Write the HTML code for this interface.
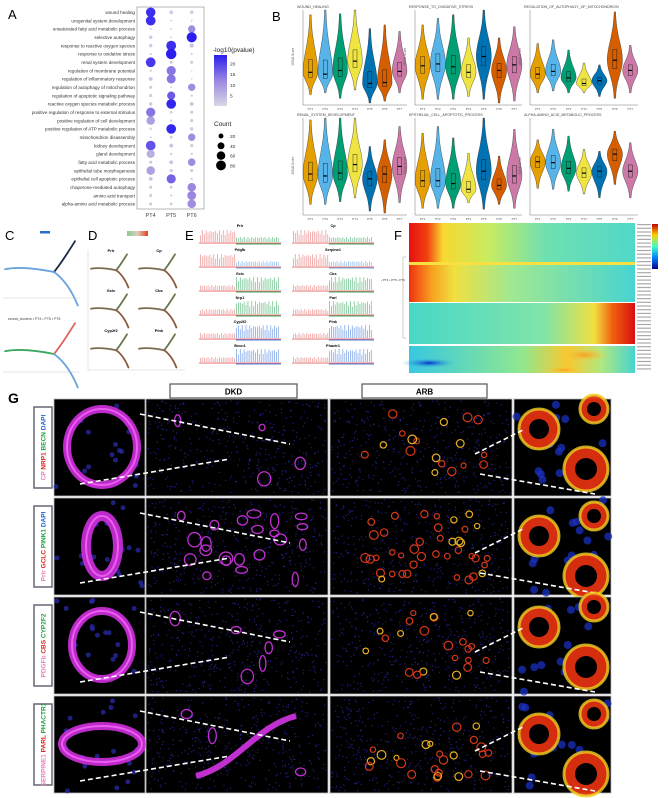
<!DOCTYPE html>
<html><head><meta charset="utf-8">
<style>
html,body{margin:0;padding:0;background:#fff;}
svg{display:block;font-family:"Liberation Sans",sans-serif;}
</style></head>
<body>
<svg id="fig" width="669" height="798" viewBox="0 0 669 798" xmlns="http://www.w3.org/2000/svg">
<defs>
<linearGradient id="pvGrad" x1="0" y1="1" x2="0" y2="0">
<stop offset="0" stop-color="#d8d8e4"/><stop offset="0.5" stop-color="#9b86e0"/><stop offset="1" stop-color="#2a1ef0"/></linearGradient>
<linearGradient id="dGrad" x1="0" x2="1"><stop offset="0" stop-color="#8fc48f"/><stop offset="0.5" stop-color="#d8d0c0"/><stop offset="1" stop-color="#e83a1a"/></linearGradient>
<linearGradient id="jetV" x1="0" y1="1" x2="0" y2="0">
<stop offset="0" stop-color="#00008f"/><stop offset="0.25" stop-color="#0080ff"/><stop offset="0.5" stop-color="#40ffc0"/><stop offset="0.75" stop-color="#ffd000"/><stop offset="1" stop-color="#c00000"/></linearGradient>
<linearGradient id="hmTop" x1="0" x2="1">
<stop offset="0" stop-color="#e81010"/><stop offset="0.08" stop-color="#f04010"/><stop offset="0.15" stop-color="#f8d830"/><stop offset="0.35" stop-color="#c8ec60"/><stop offset="0.6" stop-color="#70e0b0"/><stop offset="1" stop-color="#50d8c8"/></linearGradient>
<linearGradient id="hmTop2" x1="0" x2="1">
<stop offset="0" stop-color="#f03010"/><stop offset="0.1" stop-color="#f8a020"/><stop offset="0.2" stop-color="#f0e040"/><stop offset="0.45" stop-color="#a0e890"/><stop offset="1" stop-color="#48d4d0"/></linearGradient>
<linearGradient id="hmMid" x1="0" x2="1">
<stop offset="0" stop-color="#48d8c8"/><stop offset="0.6" stop-color="#80e4a8"/><stop offset="0.82" stop-color="#f0e040"/><stop offset="0.9" stop-color="#f06010"/><stop offset="1" stop-color="#d81010"/></linearGradient>
<linearGradient id="hmBot" x1="0" x2="1">
<stop offset="0" stop-color="#38c8e0"/><stop offset="0.5" stop-color="#90e890"/><stop offset="0.7" stop-color="#f8c830"/><stop offset="0.85" stop-color="#b0e880"/><stop offset="1" stop-color="#48d4d0"/></linearGradient>
<radialGradient id="blueSpot"><stop offset="0" stop-color="#0030d0"/><stop offset="1" stop-color="#40c8e0" stop-opacity="0"/></radialGradient>
<radialGradient id="orSpot"><stop offset="0" stop-color="#f8a020"/><stop offset="1" stop-color="#f8d040" stop-opacity="0"/></radialGradient>
</defs>
<rect width="669" height="798" fill="#fff"/>
<g id="pA"></g>
<g id="pB"></g>
<g id="pC"></g>
<g id="pD"></g>
<g id="pE"></g>
<g id="pF"></g>
<g id="pG"></g>
</svg>
<script>
// ---------- Panel A data ----------
const termsA = ["wound healing","urogenital system development","unsaturated fatty acid metabolic process","selective autophagy","response to reactive oxygen species","response to oxidative stress","renal system development","regulation of membrane potential","regulation of inflammatory response","regulation of autophagy of mitochondrion","regulation of apoptotic signaling pathway","reactive oxygen species metabolic process","positive regulation of response to external stimulus","positive regulation of cell development","positive regulation of ATP metabolic process","mitochondrion disassembly","kidney development","gland development","fatty acid metabolic process","epithelial tube morphogenesis","epithelial cell apoptotic process","chaperone-mediated autophagy","amino acid transport","alpha-amino acid metabolic process"];
const clustersA = ["PT4","PT5","PT6"];
const pvPT4 = [22,22,1,2,2,1,21,1,3,2,2,2,14,8,1,1,18,6,2,8,3,2,2,2];
const pvPT5 = [2,1,1,1,22,24,2,14,14,1,17,23,2,1,23,2,3,1,3,2,16,2,1,2];
const pvPT6 = [2,1,11,24,3,1,2,1,1,11,1,3,2,2,2,11,2,1,11,2,1,12,12,11];
const cntPT4 = [75,78,4,10,10,4,78,5,12,8,8,10,70,60,5,3,78,55,8,60,12,8,8,8];
const cntPT5 = [12,3,3,3,80,90,8,70,68,3,55,78,6,5,78,6,12,5,12,8,70,6,5,6];
const cntPT6 = [10,3,45,85,14,4,8,2,2,45,5,12,8,8,10,45,8,5,48,8,5,60,65,60];
const pvTicks = [5,10,15,20];
const countTicks = [20,40,60,80];

const NS="http://www.w3.org/2000/svg";
function mk(tag, attrs, parent, text){const e=document.createElementNS(NS,tag);for(const k in attrs)e.setAttribute(k,attrs[k]);if(text!==undefined)e.textContent=text;parent.appendChild(e);return e;}
function lerp(a,b,t){return a+(b-a)*t;}
function pvColor(v){const t=Math.max(0,Math.min(1,v/24));
  const c0=[216,216,228],c1=[155,134,224],c2=[42,30,240];
  let a,b,u; if(t<0.5){a=c0;b=c1;u=t/0.5;}else{a=c1;b=c2;u=(t-0.5)/0.5;}
  return `rgb(${Math.round(lerp(a[0],b[0],u))},${Math.round(lerp(a[1],b[1],u))},${Math.round(lerp(a[2],b[2],u))})`;}
function rCount(c){return Math.sqrt(c)*0.55;}

(function(){
 const g=document.getElementById('pA');
 let t=mk('text',{x:8,y:19,'font-size':13},g,'A');
 
 
 const box=mk('rect',{x:137,y:7,width:67,height:202,fill:'none',stroke:'#888','stroke-width':0.6},g);
 
 
 const xs=i=>150.7+i*20.5, ys=i=>12.3+i*8.33;
 const pvs=[pvPT4,pvPT5,pvPT6], cnts=[cntPT4,cntPT5,cntPT6];
 termsA.forEach((term,i)=>{
   const lab=mk('text',{x:135,y:ys(i)+1.7,'font-size':4.6,'text-anchor':'end',fill:'#333'},g,term);
   
   
   for(let j=0;j<3;j++){
     const c=mk('circle',{cx:xs(j),cy:ys(i),r:rCount(cnts[j][i]),fill:pvColor(pvs[j][i])},g);
     
     
   }
 });
 clustersA.forEach((cl,j)=>{const l=mk('text',{x:xs(j),y:217,'font-size':5.5,'text-anchor':'middle',fill:'#444'},g,cl);
   
   });
 const lt=mk('text',{x:213,y:52,'font-size':6.5,fill:'#222'},g,'-log10(pvalue)');
 
 
 const gb=mk('rect',{x:214,y:55,width:13,height:51,fill:'url(#pvGrad)'},g);
 
 
 pvTicks.forEach(v=>{const y=106-(v/24)*51;const tt=mk('text',{x:230,y:y+2,'font-size':4.8,fill:'#333'},g,String(v));
   
   });
 const ct=mk('text',{x:214,y:126,'font-size':6.5,fill:'#222'},g,'Count');
 
 
 countTicks.forEach((v,i)=>{const y=136+i*9.8;
   const c=mk('circle',{cx:221,cy:y,r:rCount(v),fill:'#000'},g);
   
   
   const tt=mk('text',{x:230,y:y+2,'font-size':4.8,fill:'#333'},g,String(v));
   
   });
})();

// ---------- Panel B data ----------
const violinTitles = ["WOUND_HEALING","RESPONSE_TO_OXIDATIVE_STRESS","REGULATION_OF_AUTOPHAGY_OF_MITOCHONDRION","RENAL_SYSTEM_DEVELOPMENT","EPITHELIAL_CELL_APOPTOTIC_PROCESS","ALPHA-AMINO_ACID_METABOLIC_PROCESS"];
const violinGroups = ["PT1","PT2","PT3","PT4","PT5","PT6","PT7"];
const vMed = [[.67,.69,.65,.55,.79,.78,.66],[.6,.58,.61,.67,.5,.65,.59],[.69,.66,.73,.79,.76,.54,.65],[.59,.61,.58,.49,.64,.59,.51],[.66,.66,.69,.75,.56,.71,.61],[.46,.47,.53,.58,.56,.38,.56]];
const vTop = [[.05,0,.04,0,.2,.16,.23],[.16,.09,.05,.3,0,.3,.18],[.36,.32,.43,.57,.59,.02,.38],[.02,0,0,0,.3,.23,.09],[.16,.09,.21,.37,0,.4,.12],[.23,.12,.19,.33,.35,.14,.26]];
const vBot = [[.91,.89,.95,.86,1,.98,.89],[.96,.96,.96,.93,.96,1,.98],[.89,.87,.89,.89,.93,.95,.89],[.91,.91,.88,.84,.98,1,.89],[.95,.95,.95,.89,.96,.91,.95],[.74,.75,.77,.8,.84,.7,.84]];
const violinColors = ["#E69F00","#56B4E9","#009E73","#F0E442","#0072B2","#D55E00","#CC79A7"];

(function(){
 const g=document.getElementById('pB');
 const L=mk('text',{x:272,y:21,'font-size':13},g,'B');
 
 
 const px=[303,415,530], pw=[104,107,108];
 const rows=[[10,103],[118,213]];
 violinTitles.forEach((title,p)=>{
  const col=p%3,row=Math.floor(p/3);
  const x0=px[col],w=pw[col],y0=rows[row][0],y1=rows[row][1];
  const yS=f=>y0+f*(y1-y0);
  const sub=mk('g',{},g);
  
  
  const tt=mk('text',{x:x0-6,y:y0-2,'font-size':3.6,fill:'#444'},sub,title);
  
  
  mk('line',{x1:x0,y1:y0,x2:x0,y2:y1+2,stroke:'#777','stroke-width':0.5},sub);
  mk('line',{x1:x0,y1:y1+2,x2:x0+w,y2:y1+2,stroke:'#777','stroke-width':0.5},sub);
  const yl=mk('text',{x:x0-9,y:(y0+y1)/2,'font-size':3.2,fill:'#555',transform:`rotate(-90 ${x0-9} ${(y0+y1)/2})`,'text-anchor':'middle'},sub,'GSVA Score');
  
  
  const step=w/7;
  violinGroups.forEach((gn,i)=>{
   const cx=x0+step*(i+0.5);
   const med=vMed[p][i],top=vTop[p][i],bot=vBot[p][i];
   const hw=step*0.46;
   const pts=[],N=30;
   for(let k=0;k<=N;k++){const f=top+(bot-top)*k/N;const d=(f-med)/Math.max(0.001,(f<med?(med-top)*0.55:(bot-med)*0.55));
     const wd=0.5+hw*Math.exp(-d*d);pts.push([cx+wd,yS(f)]);}
   const left=pts.slice().reverse().map(q=>[2*cx-q[0],q[1]]);
   const path='M'+pts.concat(left).map(q=>q[0].toFixed(1)+','+q[1].toFixed(1)).join('L')+'Z';
   const v=mk('path',{d:path,fill:violinColors[i],stroke:'#222','stroke-width':0.35},sub);
   
   
   const q1=med-(med-top)*0.22,q3=med+(bot-med)*0.22;
   const b=mk('rect',{x:cx-2,y:yS(q1),width:4,height:yS(q3)-yS(q1),fill:'none',stroke:'#111','stroke-width':0.4},sub);
   
   
   mk('line',{x1:cx-2,x2:cx+2,y1:yS(med),y2:yS(med),stroke:'#000','stroke-width':1.2},sub);
   const xl=mk('text',{x:cx,y:y1+7,'font-size':3,'text-anchor':'middle',fill:'#555'},sub,gn);
   
   
  });
 });
})();

// ---------- Panel C/D (trajectory trees) ----------
function tree(parent,ox,oy,s,colL,colR,colTop){
 const p1=`M${ox},${oy+8*s} C${ox+10*s},${oy+6*s} ${ox+25*s},${oy+8*s} ${ox+35*s},${oy+10*s}`;
 const p2=`M${ox+35*s},${oy+10*s} C${ox+40*s},${oy+4*s} ${ox+45*s},${oy-4*s} ${ox+50*s},${oy-12*s}`;
 const p3=`M${ox+35*s},${oy+10*s} C${ox+42*s},${oy+15*s} ${ox+48*s},${oy+24*s} ${ox+52*s},${oy+34*s}`;
 [[p1,colL],[p2,colTop],[p3,colR]].forEach(([d,c])=>{const e=mk('path',{d:d,fill:'none',stroke:c,'stroke-width':1.8,'stroke-linecap':'round'},parent);
  
  });
}
(function(){
 const g=document.getElementById('pC');
 const L=mk('text',{x:5,y:240,'font-size':13},g,'C');
 
 
 mk('rect',{x:40,y:231,width:10,height:2.5,fill:'#2a6fd0'},g);
 tree(g,5,258,1.4,'#6aa4dc','#6aa4dc','#1a2a4a');
 const lg=mk('text',{x:8,y:320,'font-size':3.5,fill:'#444'},g,'seurat_clusters  • PT4  • PT5  • PT6');
 
 
 tree(g,5,340,1.4,'#3aa860','#6aa4dc','#e06060');
 mk('line',{x1:3,y1:298,x2:80,y2:298,stroke:'#bbb','stroke-width':0.4},g);
 mk('line',{x1:3,y1:372,x2:80,y2:372,stroke:'#bbb','stroke-width':0.4},g);

 const d=document.getElementById('pD');
 const DL=mk('text',{x:88,y:240,'font-size':13},d,'D');
 
 
 const cb=mk('rect',{x:127,y:231,width:21,height:5,fill:'url(#dGrad)'},d);
 
 
 const genesD=["Prlr","Cp","Gclc","Cbs","Cyp2f2","Pink"];
 genesD.forEach((gn,i)=>{const col=i%2,row=Math.floor(i/2);
  const ox=91+col*48,oy=263+row*40;
  const t=mk('text',{x:ox+20,y:oy-11,'font-size':4,'font-weight':'bold','text-anchor':'middle'},d,gn);
  
  
  tree(d,ox,oy,0.72,'#7a6a50','#8a5a40','#6a7a50');
 });
 mk('line',{x1:88,y1:250,x2:88,y2:370,stroke:'#bbb','stroke-width':0.4},d);
 mk('line',{x1:88,y1:370,x2:185,y2:370,stroke:'#bbb','stroke-width':0.4},d);
})();

// ---------- Panel E (pseudotime scatter panels, drawn as texture bands) ----------
const genesE = ["Prlr","Cp","Pdgfb","Serpine1","Gclc","Cbs","Nrp1","Parl","Cyp2f2","Pink","Becn1","Phactr1"];
const riseColor = ["#3aa860","#3aa860","#6aa4dc","#6aa4dc","#3aa860","#3aa860","#3aa860","#3aa860","#4a80e0","#4a80e0","#4a80e0","#4a80e0"];
(function(){
 const g=document.getElementById('pE');
 const L=mk('text',{x:185,y:240,'font-size':13},g,'E');
 
 
 genesE.forEach((gn,i)=>{
  const col=i%2,row=Math.floor(i/2);
  const x0=199+col*93,y0=226+row*24,w=82,h=19;
  const sub=mk('g',{},g);
  
  
  const t=mk('text',{x:x0+w/2,y:y0+1,'font-size':3.8,'font-weight':'bold','text-anchor':'middle'},sub,gn);
  
  
  const leftStrong=row<2, rightStrong=row>=2;
  for(let k=0;k<42;k++){
   const xx=x0+1+k*1.9, left=xx<x0+w*0.45;
   const hh=(left?(leftStrong?12:5):(rightStrong?13:5))*(0.55+0.45*Math.abs(Math.sin(k*1.7+i)));
   mk('rect',{x:xx,y:y0+h-hh-3,width:0.9,height:hh,fill:left?'#e87070':riseColor[i],opacity:0.6},sub);
  }
  mk('line',{x1:x0,y1:y0+h-2,x2:x0+w,y2:y0+h-2,stroke:'#e87070','stroke-width':0.9},sub);
  mk('line',{x1:x0+w*0.45,y1:y0+h-1,x2:x0+w,y2:y0+h-1,stroke:riseColor[i],'stroke-width':0.9},sub);
 });
 const lg=mk('text',{x:381,y:281,'font-size':3,fill:'#333'},g,'• PT4 • PT5 • PT6');
 
 
})();

// ---------- Panel F (heatmap blocks) ----------
(function(){
 const g=document.getElementById('pF');
 const L=mk('text',{x:394,y:240,'font-size':13},g,'F');
 
 
 const x0=409,w=226;
 const blocks=[[223,39,'url(#hmTop)'],[262,3,'#f8e040'],[265,37,'url(#hmTop2)'],[303,41,'url(#hmMid)'],[346,27,'url(#hmBot)']];
 blocks.forEach(b=>{const r=mk('rect',{x:x0,y:b[0],width:w,height:b[1],fill:b[2]},g);
  
  });
 mk('ellipse',{cx:x0+20,cy:363,rx:28,ry:5,fill:'url(#blueSpot)'},g);
 mk('ellipse',{cx:x0+175,cy:355,rx:25,ry:7,fill:'url(#orSpot)'},g);
 mk('ellipse',{cx:x0+155,cy:370,rx:20,ry:3,fill:'url(#orSpot)'},g);
 mk('line',{x1:x0,y1:302.5,x2:x0+w,y2:302.5,stroke:'#fff','stroke-width':1},g);
 mk('line',{x1:x0,y1:345,x2:x0+w,y2:345,stroke:'#fff','stroke-width':1},g);
 mk('path',{d:'M406,257 H403 V338 H406',fill:'none',stroke:'#999','stroke-width':0.5},g);
 for(let k=0;k<40;k++){mk('rect',{x:637,y:224+k*3.7,width:14,height:1.2,fill:'#aaa'},g);}
 const cb=mk('rect',{x:652,y:224,width:6,height:45,fill:'url(#jetV)'},g);
 
 
})();

// ---------- Panel G (immunofluorescence images) ----------
(function(){
 const g=document.getElementById('pG');
 const L=mk('text',{x:8,y:403,'font-size':14,'font-weight':'bold'},g,'G');
 
 
 [['DKD',170,127],['ARB',362,125]].forEach(h=>{
  const r=mk('rect',{x:h[1],y:384,width:h[2],height:14,fill:'#fff',stroke:'#555','stroke-width':1.2},g);
  
  
  const t=mk('text',{x:h[1]+h[2]/2,y:394.5,'font-size':8,'font-weight':'bold','text-anchor':'middle'},g,h[0]);
  
  
 });
 const cols=[[54,91],[146,182],[330,182],[514,97]];
 const rowY=[399,498,597,696], rh=97;
 const labels=[[["CP ","#e87fc0"],["NRP1 ","#e02020"],["BECN ","#20a040"],["DAPI","#2060d0"]],
   [["Prlr ","#e87fc0"],["GCLC ","#e02020"],["PINK1 ","#20a040"],["DAPI","#2060d0"]],
   [["PDGFb ","#e87fc0"],["CBS ","#e02020"],["CYP2F2","#20a040"]],
   [["SERPINE1 ","#e87fc0"],["PARL ","#e02020"],["PHACTR1","#20a040"]]];
 let seed=7; const rnd=()=>{seed=(seed*16807)%2147483647;return seed/2147483647;};
 rowY.forEach((y0,r)=>{
  const lb=mk('rect',{x:34,y:y0+8,width:18,height:rh-16,fill:'#fff',stroke:'#667','stroke-width':1.5},g);
  
  
  const cx=43,cy=y0+rh/2;
  const t=mk('text',{x:cx,y:cy+2.5,'font-size':6.5,'font-weight':'bold','text-anchor':'middle',transform:`rotate(-90 ${cx} ${cy})`},g);
  
  
  labels[r].forEach(s=>{mk('tspan',{fill:s[1]},t,s[0]);});
  cols.forEach((c,ci)=>{
   const img=mk('g',{},g);
   
   
   mk('rect',{x:c[0],y:y0,width:c[1],height:rh,fill:'#000',stroke:'#bbb','stroke-width':0.8},img);
   const n=ci===0||ci===3?18:420;
   for(let k=0;k<n;k++){mk('circle',{cx:c[0]+2+rnd()*(c[1]-4),cy:y0+2+rnd()*(rh-4),r:ci===3?4:(ci===0?2.5:0.7),fill:ci===3?'#1a30c0':'#2a2aa8',opacity:0.75},img);}
   if(ci===0){
    const rx=[35,16,30,40][r],ry=[38,30,34,18][r];
    mk('ellipse',{cx:c[0]+48,cy:y0+48,rx:rx,ry:ry,fill:'none',stroke:'#d030e0','stroke-width':r===1?10:8,opacity:0.9},img);
    mk('ellipse',{cx:c[0]+48,cy:y0+48,rx:rx,ry:ry,fill:'none',stroke:'#ff70ff','stroke-width':2,opacity:0.7},img);
   } else if(ci===1){
    const m=[4,22,6,3][r];
    for(let k=0;k<m;k++){mk('ellipse',{cx:c[0]+20+rnd()*(c[1]-40),cy:y0+15+rnd()*(rh-30),rx:3+rnd()*4,ry:3+rnd()*5,fill:'none',stroke:'#c030d0','stroke-width':1.3},img);}
    if(r===3){mk('path',{d:`M${c[0]+50},${y0+80} C${c[0]+90},${y0+70} ${c[0]+110},${y0+30} ${c[0]+150},${y0+20}`,fill:'none',stroke:'#c030d0','stroke-width':6},img);}
   } else if(ci===2){
    const m=[18,40,22,26][r];
    for(let k=0;k<m;k++){const rr=2.5+rnd()*2;const ex=c[0]+30+rnd()*(c[1]-50),ey=y0+15+rnd()*(rh-30);
     mk('circle',{cx:ex,cy:ey,r:rr,fill:'none',stroke:rnd()>0.7?'#e8b020':'#d83818','stroke-width':1.2},img);}
   } else {
    [[25,30,20],[72,70,22],[80,10,14]].forEach((o,k)=>{
     mk('circle',{cx:c[0]+o[0],cy:y0+o[1]+(r%2)*8,r:o[2],fill:'#e03010',opacity:0.95},img);
     mk('circle',{cx:c[0]+o[0],cy:y0+o[1]+(r%2)*8,r:o[2],fill:'none',stroke:'#f0d020','stroke-width':3,opacity:0.8},img);
     mk('circle',{cx:c[0]+o[0],cy:y0+o[1]+(r%2)*8,r:o[2]*0.5,fill:'#000'},img);
    });
   }
  });
  const dash={stroke:'#fff','stroke-width':1.6,'stroke-dasharray':'5,3',fill:'none'};
  const a=mk('line',Object.assign({x1:80,y1:y0+85,x2:230,y2:y0+60},dash),g);
  
  
  const b=mk('line',Object.assign({x1:140,y1:y0+15,x2:290,y2:y0+45},dash),g);
  
  
  const c2=mk('line',Object.assign({x1:475,y1:y0+55,x2:525,y2:y0+30},dash),g);
  
  
  const d2=mk('line',Object.assign({x1:480,y1:y0+75,x2:595,y2:y0+95},dash),g);
  
  
 });
})();
</script>
</body></html>
